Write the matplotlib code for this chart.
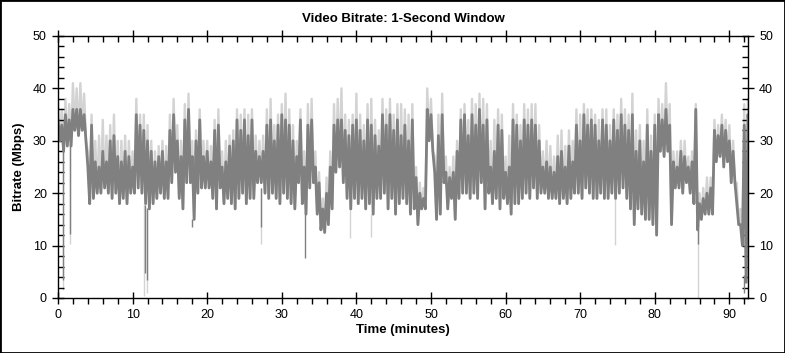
import numpy as np
import matplotlib.pyplot as plt
from matplotlib.lines import TICKDOWN
from matplotlib.patches import Rectangle

plt.rcParams['font.family'] = ['Liberation Sans', 'DejaVu Sans']

# time in minutes, one reading every half minute
minutes = np.arange(0, 93, 0.5)

# top of the dark band (Mbps)
band_hi = [34, 33, 35, 34, 36, 36, 36, 35, 25, 33,
           26, 25, 28, 26, 30, 31, 27, 26, 28, 27,
           25, 35, 33, 32, 30, 28, 26, 27, 28, 26,
           32, 35, 30, 27, 34, 36, 27, 30, 34, 27,
           28, 26, 32, 33, 25, 26, 29, 30, 34, 32,
           34, 31, 34, 28, 27, 28, 33, 34, 30, 33,
           35, 34, 33, 30, 27, 34, 25, 33, 34, 25,
           22, 17, 20, 25, 33, 34, 34, 32, 31, 33,
           34, 32, 30, 34, 33, 31, 29, 35, 33, 35,
           32, 34, 31, 33, 30, 34, 23, 20, 19, 36,
           35, 24, 31, 35, 24, 23, 24, 28, 34, 35,
           31, 35, 33, 36, 33, 34, 25, 28, 33, 32,
           24, 25, 34, 33, 30, 34, 33, 34, 33, 30,
           25, 26, 25, 24, 27, 28, 25, 29, 26, 33,
           30, 35, 33, 34, 33, 30, 34, 33, 30, 34,
           32, 35, 33, 32, 35, 28, 30, 26, 33, 28,
           33, 35, 34, 36, 33, 26, 25, 28, 27, 25,
           26, 36, 18, 19, 20, 21, 32, 31, 33, 32,
           30, 28, 18, 14, 33, 35]

# bottom of the dark band (Mbps)
band_lo = [30, 28, 29, 29, 32, 31, 32, 30, 18, 19,
           20, 20, 21, 20, 19, 20, 18, 19, 18, 20,
           20, 21, 20, 18, 17, 18, 19, 20, 19, 19,
           22, 24, 19, 17, 22, 22, 15, 20, 21, 21,
           21, 19, 17, 21, 18, 19, 18, 17, 19, 20,
           18, 19, 19, 22, 22, 20, 19, 20, 19, 18,
           20, 19, 18, 17, 22, 18, 16, 21, 22, 16,
           13, 12.5, 14, 17, 24, 25, 22, 19, 17, 19,
           18, 19, 17, 18, 16, 19, 19, 20, 17, 19,
           16, 18, 19, 18, 16, 17, 14, 17, 17, 30,
           28, 15, 16, 22, 17, 19, 15, 19, 20, 20,
           19, 20, 19, 22, 17, 20, 18, 19, 17, 19,
           18, 16, 18, 18, 19, 20, 19, 21, 19, 20,
           20, 19, 19, 19, 18, 19, 18, 19, 20, 20,
           19, 21, 20, 19, 19, 20, 19, 19, 20, 19,
           20, 21, 19, 17, 14, 17, 16, 15, 15, 14,
           12, 28, 27, 28, 14, 21, 21, 20, 22, 20,
           18, 13, 15, 16, 16, 16, 26, 27, 25, 26,
           22, 22, 14, 10, 3, 30]

# light peak envelope (Mbps)
peak = [37, 36, 38, 37, 41, 40, 41, 39, 28, 35,
        30, 31, 34, 31, 33, 35, 30, 30, 31, 30,
        28, 38, 35, 35, 33, 30, 28, 29, 30, 29,
        35, 38, 33, 30, 37, 39, 30, 32, 36, 30,
        30, 29, 34, 36, 28, 30, 31, 32, 36, 35,
        36, 35, 36, 31, 30, 31, 36, 38, 33, 35,
        37, 39, 36, 33, 30, 36, 28, 37, 38, 28,
        24, 19, 23, 28, 37, 38, 40, 35, 34, 35,
        39, 35, 33, 37, 38, 34, 32, 38, 36, 38,
        35, 37, 37, 36, 35, 37, 25, 22, 21, 40,
        38, 27, 35, 39, 27, 25, 27, 30, 36, 37,
        34, 38, 37, 39, 38, 37, 30, 34, 36, 35,
        27, 31, 37, 35, 33, 37, 36, 37, 37, 33,
        28, 30, 29, 27, 31, 32, 29, 32, 30, 36,
        35, 37, 36, 36, 35, 34, 36, 36, 33, 36,
        35, 38, 36, 35, 39, 32, 33, 30, 36, 31,
        35, 38, 37, 41, 37, 28, 28, 30, 30, 27,
        28, 37, 20, 21, 23, 23, 34, 33, 35, 34,
        33, 30, 22, 17, 37, 38]

# short dips well below the band
dip_times = [0.72, 1.55, 11.6, 11.9, 18.0, 27.25, 33.05, 85.8, 91.9]
dip_vals = [3.4, 12.3, 4.7, 3.4, 13.6, 13.6, 7.6, 10.4, 0.9]
light_dip_times = [0.72, 1.55, 11.57, 11.97, 27.25, 39.2, 42.0, 74.7, 85.8]
light_dip_vals = [1.5, 10.4, 0.3, 1.0, 10.4, 11.4, 11.7, 10.1, 0.0]

fig = plt.figure(figsize=(7.85, 3.53), dpi=100)
ax = fig.add_axes([58 / 785, 55 / 353, 690 / 785, 262 / 353])

dark = '#808080'
light = '#d3d3d3'

# trace each half-minute as a swing from the top reading down to the bottom one
t_zig = np.column_stack([minutes, minutes + 0.25]).ravel()
light_zig = np.column_stack([peak, band_lo]).ravel()
dark_zig = np.column_stack([band_hi, band_lo]).ravel()

ax.plot(t_zig, light_zig, color=light, lw=1.7, zorder=1)
ax.vlines(light_dip_times, light_dip_vals,
          np.interp(light_dip_times, minutes, band_lo), color=light, lw=1, zorder=1)
ax.plot(t_zig, dark_zig, color=dark, lw=2.0, zorder=2)
ax.vlines(dip_times, dip_vals,
          np.interp(dip_times, minutes, band_lo), color=dark, lw=1, zorder=2)

ax.set_xlim(0, 92.5)
ax.set_ylim(0, 50)
ax.set_xticks(np.arange(0, 91, 10))
ax.set_xticks(np.arange(0, 93, 2), minor=True)
ax.set_yticks(np.arange(0, 51, 10))
ax.set_yticks(np.arange(0, 51, 2), minor=True)
ax.tick_params(which='major', direction='inout', length=8, width=1,
               top=True, right=True, labelright=True, labelsize=9, pad=4)
ax.tick_params(which='minor', direction='in', length=4, width=1,
               top=True, right=True)
# bottom minor ticks hang below the axis
for tk in ax.xaxis.get_minor_ticks():
    tk.tick1line.set_marker(TICKDOWN)
for s in ax.spines.values():
    s.set_linewidth(1)

ax.set_title('Video Bitrate: 1-Second Window', fontsize=9.5, fontweight='bold', pad=10)
ax.set_xlabel('Time (minutes)', fontsize=9.5, fontweight='bold', labelpad=2)
ax.set_ylabel('Bitrate (Mbps)', fontsize=9.5, fontweight='bold', labelpad=6)

fig.patches.append(Rectangle((0, 0), 1, 1, transform=fig.transFigure,
                             fill=False, edgecolor='black', lw=2))

fig.savefig('out.png', dpi=100)
